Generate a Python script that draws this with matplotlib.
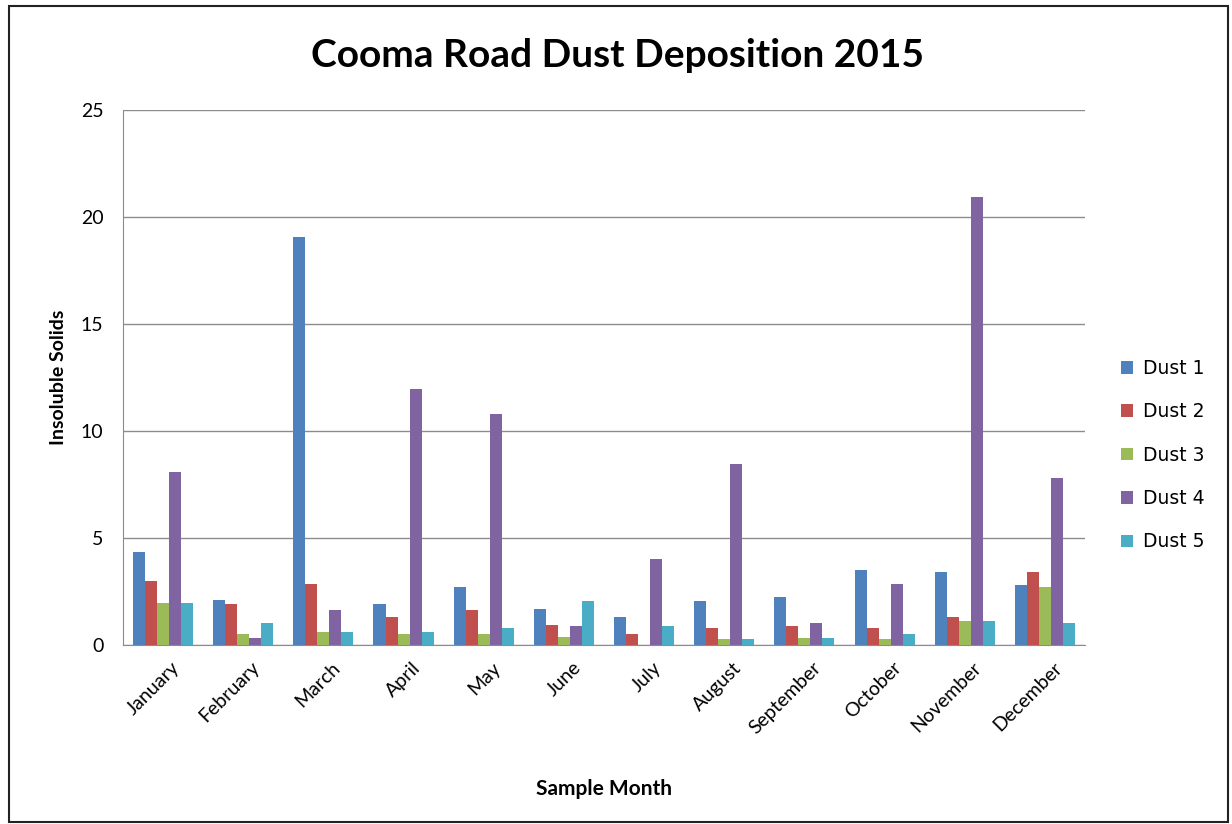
import numpy as np
import matplotlib.pyplot as plt
from matplotlib.patches import Rectangle

months = ['January', 'February', 'March', 'April', 'May', 'June', 'July',
          'August', 'September', 'October', 'November', 'December']
series = ['Dust 1', 'Dust 2', 'Dust 3', 'Dust 4', 'Dust 5']
dust1 = [4.35, 2.1, 19.05, 1.9, 2.7, 1.7, 1.3, 2.07, 2.25, 3.5, 3.4, 2.8]
dust2 = [3.0, 1.9, 2.85, 1.3, 1.65, 0.95, 0.53, 0.78, 0.87, 0.78, 1.3, 3.4]
dust3 = [1.95, 0.53, 0.6, 0.53, 0.53, 0.36, 0.0, 0.27, 0.34, 0.27, 1.12, 2.7]
dust4 = [8.08, 0.34, 1.65, 11.95, 10.8, 0.87, 4.0, 8.45, 1.05, 2.85, 20.95, 7.8]
dust5 = [1.95, 1.05, 0.6, 0.6, 0.78, 2.07, 0.87, 0.27, 0.34, 0.53, 1.12, 1.05]
colors = ['#4F81BD', '#C0504D', '#9BBB59', '#8064A2', '#4BACC6']

data = [dust1, dust2, dust3, dust4, dust5]

fig = plt.figure(figsize=(12.32, 8.24), dpi=100)
ax = fig.add_axes([0.0998, 0.2172, 0.7809, 0.6493])

x = np.arange(len(months))
width = 0.15
for i, (vals, name) in enumerate(zip(data, series)):
    ax.bar(x + (i - 2) * width, vals, width, color=colors[i], label=name, zorder=3)

ax.set_xlim(-0.5, len(months) - 0.5)
ax.set_ylim(0, 25)
ax.set_yticks(range(0, 26, 5))
ax.yaxis.grid(True, color='#8c8c8c', linewidth=1.0, zorder=0)
for side in ['top', 'right']:
    ax.spines[side].set_visible(False)
ax.spines['left'].set_color('#8c8c8c')
ax.spines['bottom'].set_color('#8c8c8c')
ax.tick_params(axis='y', length=0, pad=14, labelsize=14)
ax.tick_params(axis='x', length=0, labelsize=14, pad=10)
ax.set_xticks(x + 0.1)
ax.set_xticklabels(months, rotation=45, ha='right', rotation_mode='anchor')
for lab in ax.get_yticklabels() + ax.get_xticklabels():
    lab.set_fontfamily('Lato')

ax.set_ylabel('Insoluble Solids', fontsize=14, fontweight='bold', family='Lato', labelpad=10)
ax.set_xlabel('Sample Month', fontsize=15, fontweight='bold', family='Lato', labelpad=30)
fig.text(0.501, 0.933, 'Cooma Road Dust Deposition 2015', ha='center', va='center',
         fontsize=28, fontweight='bold', family='Lato')

leg = ax.legend(loc='center left', bbox_to_anchor=(1.02, 0.355), frameon=False,
                prop={'family': 'DejaVu Sans', 'size': 13.5},
                handlelength=0.65, handleheight=0.65, labelspacing=1.3, handletextpad=0.5)

fig.patches.append(Rectangle((0.007, 0.003), 0.99, 0.99, transform=fig.transFigure,
                             fill=False, edgecolor='#222222', linewidth=1.5))

fig.savefig('out.png', dpi=100)
